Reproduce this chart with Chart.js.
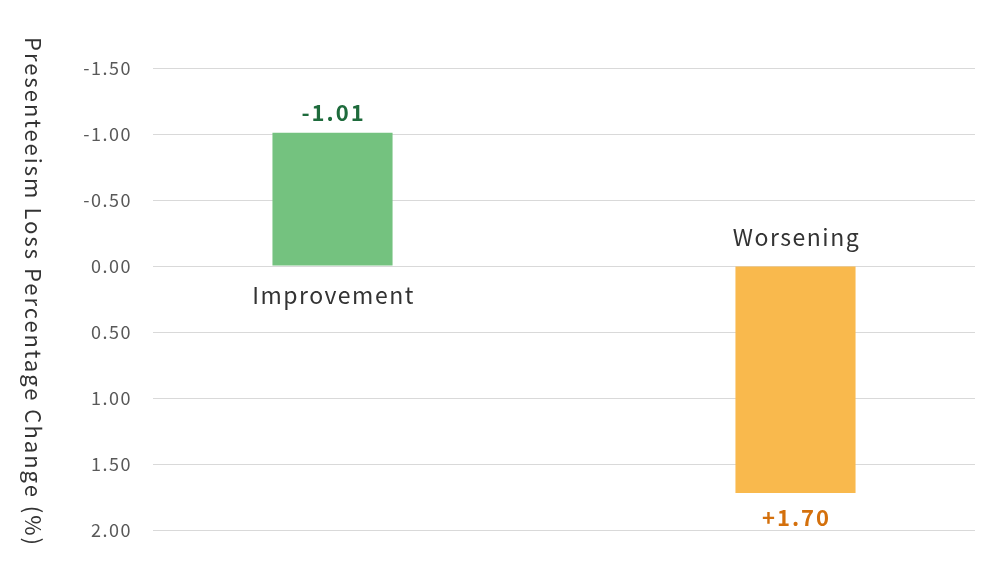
<!DOCTYPE html>
<html>
<head>
<meta charset="utf-8">
<script src="https://cdn.jsdelivr.net/npm/chart.js@4"></script>
<style>
  html, body { margin: 0; padding: 0; background: #ffffff; }
  #wrap { width: 1000px; height: 573px; }
</style>
</head>
<body>
<div id="wrap"><canvas id="chart" width="1000" height="573"></canvas></div>
<script>
const categories = ['Improvement', 'Worsening'];
const improvement = [-1.01, null];
const worsening = [null, 1.72];
const valueLabels = ['-1.01', '+1.70'];
const axisTitle = 'Presenteeism Loss Percentage Change (%)';

const FONT = '"Noto Sans CJK JP", "Noto Sans", sans-serif';

// wider tracking for all text, like the original
const spacing = {
  id: 'spacing',
  beforeDraw(chart) { chart.ctx.letterSpacing = '1.5px'; }
};

// value + category labels drawn next to each bar
const barLabels = {
  id: 'barLabels',
  afterDatasetsDraw(chart) {
    const ctx = chart.ctx;
    const colors = ['#1e6b3c', '#d4700c'];
    chart.data.datasets.forEach((ds, di) => {
      const meta = chart.getDatasetMeta(di);
      meta.data.forEach((bar, i) => {
        const v = ds.data[i];
        if (v === null) return;
        const up = bar.y < bar.base;
        ctx.save();
        ctx.textAlign = 'center';
        ctx.textBaseline = 'middle';
        ctx.letterSpacing = '2px';
        ctx.font = '600 22px ' + FONT;
        ctx.fillStyle = colors[di];
        ctx.fillText(valueLabels[di], bar.x + 1, up ? bar.y - 20 : bar.y + 25);
        ctx.letterSpacing = '1.5px';
        ctx.font = '23px ' + FONT;
        ctx.fillStyle = '#333333';
        ctx.fillText(categories[i], bar.x + 1, up ? bar.base + 30 : bar.base - 29);
        ctx.restore();
      });
    });
  }
};

const yTitle = {
  id: 'yTitle',
  afterDraw(chart) {
    const ctx = chart.ctx;
    ctx.save();
    ctx.translate(33, 292);
    ctx.rotate(Math.PI / 2);
    ctx.textAlign = 'center';
    ctx.textBaseline = 'middle';
    ctx.letterSpacing = '2px';
    ctx.font = '22px ' + FONT;
    ctx.fillStyle = '#333333';
    ctx.fillText(axisTitle, 0, 0);
    ctx.restore();
  }
};

new Chart(document.getElementById('chart'), {
  type: 'bar',
  data: {
    labels: categories,
    datasets: [
      {
        data: improvement,
        backgroundColor: '#74c27f',
        categoryPercentage: 0.253,
        barPercentage: 2.31
      },
      {
        data: worsening,
        backgroundColor: '#f9b94d',
        categoryPercentage: 0.253,
        barPercentage: 2.31
      }
    ]
  },
  options: {
    responsive: false,
    animation: false,
    layout: { padding: { top: 68, bottom: 43, right: 25, left: 0 } },
    plugins: {
      legend: { display: false },
      tooltip: { enabled: false }
    },
    scales: {
      x: { display: false },
      y: {
        reverse: true,
        min: -1.5,
        max: 2,
        border: { display: false },
        grid: { color: '#d9d9d9', drawTicks: false, lineWidth: 1 },
        ticks: {
          stepSize: 0.5,
          padding: 21,
          color: '#595959',
          font: { family: FONT, size: 18 },
          callback: v => v.toFixed(2)
        },
        afterFit(scale) { scale.width = 153; }
      }
    }
  },
  plugins: [spacing, barLabels, yTitle]
});
</script>
</body>
</html>
